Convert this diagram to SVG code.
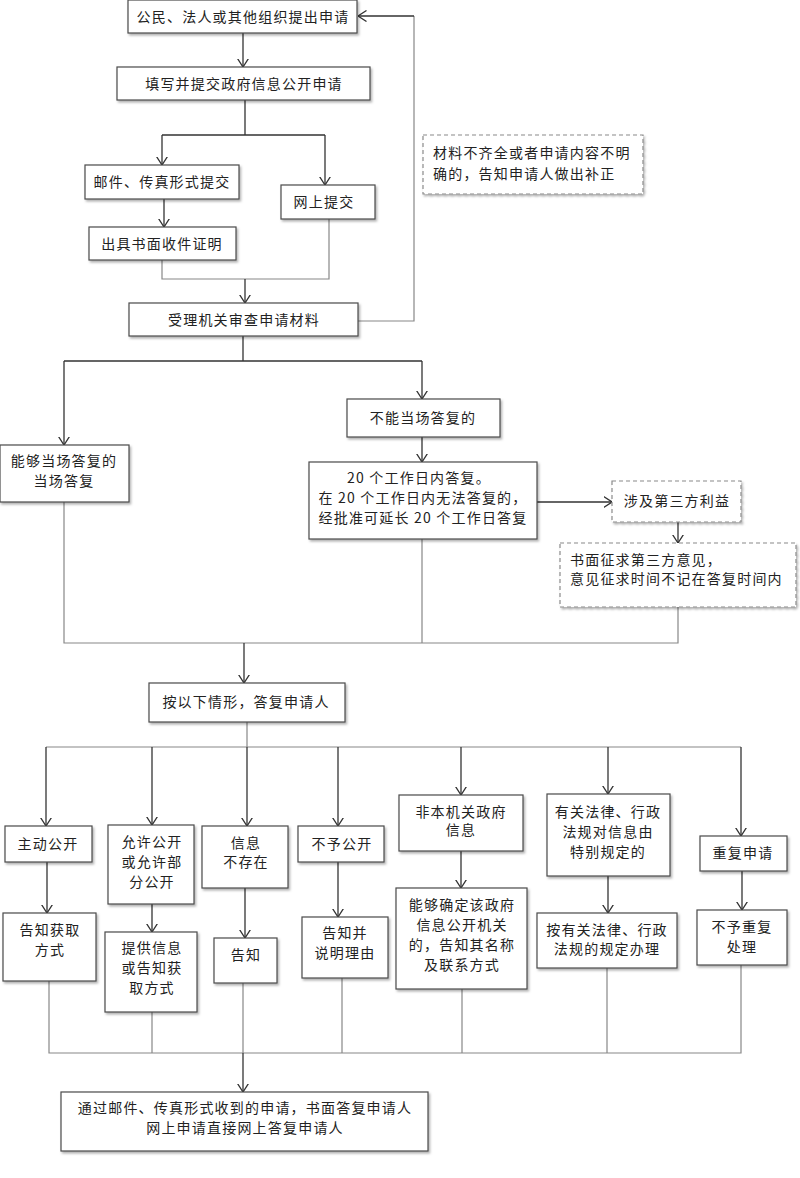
<svg xmlns="http://www.w3.org/2000/svg" width="800" height="1178" viewBox="0 0 800 1178">
<style>
  .box{fill:#fff;stroke:#4a4a4a;stroke-width:1.2;filter:url(#sh)}
  .dash{fill:#fff;stroke:#8a8a8a;stroke-width:1.2;stroke-dasharray:4 3;filter:url(#sh)}
  .t{font-family:"Noto Sans CJK SC","Liberation Sans",sans-serif;font-size:14px;fill:#222;letter-spacing:1.2px;text-anchor:middle}
  .l{text-anchor:start}
  .arr{fill:none;stroke:#333;stroke-width:1.3;marker-end:url(#ah)}
  .ln{fill:none;stroke:#888;stroke-width:1.2}
  .lk{fill:none;stroke:#333;stroke-width:1.3}
</style>
<defs>
  <filter id="sh" x="-10%" y="-10%" width="130%" height="140%">
    <feDropShadow dx="1.5" dy="2" stdDeviation="1.2" flood-color="#000" flood-opacity="0.3"/>
  </filter>
  <marker id="ah" viewBox="0 0 9 12" refX="8.5" refY="6" markerWidth="9" markerHeight="12" markerUnits="userSpaceOnUse" orient="auto">
    <path d="M0,0.5 L8.5,6 L0,11.5" fill="none" stroke="#333" stroke-width="1.3"/>
  </marker>
</defs>
<rect width="800" height="1178" fill="#fff"/>

<g id="connectors">
  <path class="arr" d="M243 33 V67"/>
  <path class="lk" d="M245 100 V135 M162 135 H325"/>
  <path class="arr" d="M162 135 V165"/>
  <path class="arr" d="M325 135 V185"/>
  <path class="arr" d="M164 199 V227"/>
  <path class="ln" d="M162 260 V279 H329 V219"/>
  <path class="arr" d="M245 279 V303"/>
  <path class="ln" d="M358 321 H414 V16"/>
  <path class="arr" d="M414 16 H358"/>
  <path class="lk" d="M243 336 V361 M64 361 H422"/>
  <path class="arr" d="M64 361 V445"/>
  <path class="arr" d="M422 361 V399"/>
  <path class="arr" d="M422 437 V462"/>
  <path class="arr" d="M537 502 H612"/>
  <path class="arr" d="M678 522 V543"/>
  <path class="ln" d="M64 502 V643 H678 V607 M422 539 V643"/>
  <path class="arr" d="M244 643 V683"/>
  <path class="ln" d="M247 722 V747 M46 747 H741"/>
  <path class="arr" d="M46 747 V826"/>
  <path class="arr" d="M152 747 V825"/>
  <path class="arr" d="M247 747 V826"/>
  <path class="arr" d="M338 747 V826"/>
  <path class="arr" d="M461 747 V795"/>
  <path class="arr" d="M608 747 V794"/>
  <path class="arr" d="M741 747 V836"/>
  <path class="arr" d="M47 862 V913"/>
  <path class="arr" d="M152 904 V932"/>
  <path class="arr" d="M245 888 V938"/>
  <path class="arr" d="M338 862 V917"/>
  <path class="arr" d="M461 851 V888"/>
  <path class="arr" d="M608 876 V913"/>
  <path class="arr" d="M742 871 V910"/>
  <path class="ln" d="M49 981 V1053 H741 V965 M152 1012 V1053 M243 983 V1053 M342 978 V1053 M462 989 V1053 M607 968 V1053"/>
  <path class="arr" d="M243 1053 V1092"/>
</g>

<g id="n1"><rect class="box" x="128" y="0" width="229" height="33"/><text class="t" x="243" y="22">公民、法人或其他组织提出申请</text></g>
<g id="n2"><rect class="box" x="117" y="67" width="253" height="33"/><text class="t" x="244" y="89">填写并提交政府信息公开申请</text></g>
<g id="n3"><rect class="box" x="85" y="165" width="154" height="34"/><text class="t" x="162" y="187">邮件、传真形式提交</text></g>
<g id="n4"><rect class="box" x="281" y="185" width="94" height="34"/><text class="t" x="324" y="207">网上提交</text></g>
<g id="n5"><rect class="box" x="89" y="227" width="147" height="33"/><text class="t" x="162" y="249">出具书面收件证明</text></g>
<g id="n6"><rect class="box" x="129" y="303" width="229" height="33"/><text class="t" x="244" y="325">受理机关审查申请材料</text></g>
<g id="n7"><rect class="dash" x="423" y="135" width="220" height="59"/><text class="t l" x="433" y="158">材料不齐全或者申请内容不明</text><text class="t l" x="433" y="179">确的，告知申请人做出补正</text></g>
<g id="n8"><rect class="box" x="0" y="445" width="129" height="57"/><text class="t" x="64" y="466">能够当场答复的</text><text class="t" x="64" y="486">当场答复</text></g>
<g id="n9"><rect class="box" x="347" y="399" width="153" height="38"/><text class="t" x="423" y="423">不能当场答复的</text></g>
<g id="n10"><rect class="box" x="309" y="462" width="228" height="77"/><text class="t" x="419" y="483">20 个工作日内答复。</text><text class="t" x="423" y="503">在 20 个工作日内无法答复的，</text><text class="t" x="423" y="523">经批准可延长 20 个工作日答复</text></g>
<g id="n11"><rect class="dash" x="612" y="481" width="129" height="41"/><text class="t" x="677" y="506">涉及第三方利益</text></g>
<g id="n12"><rect class="dash" x="560" y="543" width="236" height="64"/><text class="t l" x="570" y="565">书面征求第三方意见，</text><text class="t l" x="570" y="584">意见征求时间不记在答复时间内</text></g>
<g id="n13"><rect class="box" x="149" y="683" width="196" height="39"/><text class="t" x="246" y="707">按以下情形，答复申请人</text></g>
<g id="n14"><rect class="box" x="5" y="826" width="87" height="36"/><text class="t" x="48" y="849">主动公开</text></g>
<g id="n15"><rect class="box" x="3" y="913" width="93" height="68"/><text class="t" x="50" y="935">告知获取</text><text class="t" x="50" y="955">方式</text></g>
<g id="n16"><rect class="box" x="108" y="825" width="86" height="79"/><text class="t" x="152" y="847">允许公开</text><text class="t" x="152" y="867">或允许部</text><text class="t" x="152" y="887">分公开</text></g>
<g id="n17"><rect class="box" x="105" y="932" width="92" height="80"/><text class="t" x="152" y="953">提供信息</text><text class="t" x="152" y="973">或告知获</text><text class="t" x="152" y="993">取方式</text></g>
<g id="n18"><rect class="box" x="202" y="826" width="86" height="62"/><text class="t" x="246" y="848">信息</text><text class="t" x="246" y="867">不存在</text></g>
<g id="n19"><rect class="box" x="214" y="938" width="63" height="45"/><text class="t" x="246" y="960">告知</text></g>
<g id="n20"><rect class="box" x="298" y="826" width="86" height="36"/><text class="t" x="342" y="849">不予公开</text></g>
<g id="n21"><rect class="box" x="302" y="917" width="86" height="61"/><text class="t" x="345" y="938">告知并</text><text class="t" x="345" y="958">说明理由</text></g>
<g id="n22"><rect class="box" x="399" y="795" width="124" height="56"/><text class="t" x="461" y="817">非本机关政府</text><text class="t" x="461" y="835">信息</text></g>
<g id="n23"><rect class="box" x="396" y="888" width="131" height="101"/><text class="t" x="462" y="910">能够确定该政府</text><text class="t" x="462" y="930">信息公开机关</text><text class="t" x="462" y="950">的，告知其名称</text><text class="t" x="462" y="970">及联系方式</text></g>
<g id="n24"><rect class="box" x="547" y="794" width="123" height="82"/><text class="t" x="608" y="817">有关法律、行政</text><text class="t" x="608" y="837">法规对信息由</text><text class="t" x="608" y="857">特别规定的</text></g>
<g id="n25"><rect class="box" x="537" y="913" width="140" height="55"/><text class="t" x="607" y="935">按有关法律、行政</text><text class="t" x="607" y="954">法规的规定办理</text></g>
<g id="n26"><rect class="box" x="700" y="836" width="87" height="35"/><text class="t" x="743" y="858">重复申请</text></g>
<g id="n27"><rect class="box" x="697" y="910" width="90" height="55"/><text class="t" x="742" y="932">不予重复</text><text class="t" x="742" y="952">处理</text></g>
<g id="n28"><rect class="box" x="61" y="1092" width="367" height="59"/><text class="t" x="245" y="1113">通过邮件、传真形式收到的申请，书面答复申请人</text><text class="t" x="245" y="1133">网上申请直接网上答复申请人</text></g>
</svg>
